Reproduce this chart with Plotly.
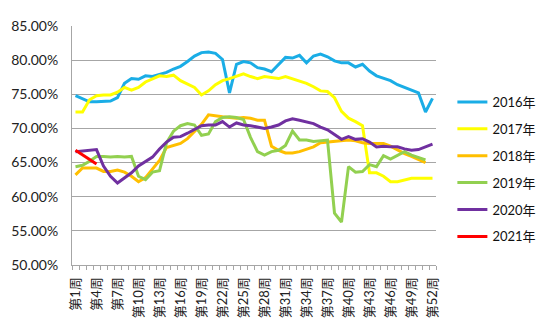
import plotly.graph_objects as go

weeks = list(range(1, 53))
week_labels = [f"第{w}周" for w in weeks]
tick_weeks = list(range(1, 53, 3))

s2016 = [74.8, 74.3, 73.9, 73.9, 74.0, 74.0, 74.5, 76.6, 77.3, 77.2,
         77.7, 77.6, 77.9, 78.2, 78.7, 79.1, 79.8, 80.6, 81.1, 81.2,
         81.0, 80.1, 75.2, 79.4, 79.8, 79.6, 78.9, 78.7, 78.3, 79.3,
         80.4, 80.3, 80.7, 79.6, 80.6, 80.9, 80.5, 79.9, 79.6, 79.6,
         79.0, 79.4, 78.4, 77.7, 77.3, 77.0, 76.4, 76.0, 75.5, 75.2,
         72.4, 74.4]
s2017 = [72.4, 72.4, 74.2, 74.8, 74.9, 74.9, 75.3, 76.0, 75.6, 76.0,
         76.8, 77.3, 77.7, 77.6, 77.8, 77.0, 76.5, 76.0, 74.9, 75.5,
         76.4, 77.0, 77.3, 77.6, 78.0, 77.6, 77.3, 77.6, 77.4, 77.3,
         77.6, 77.3, 77.0, 76.6, 76.1, 75.5, 75.4, 74.5, 72.5, 71.5,
         71.0, 70.4, 63.5, 63.5, 63.0, 62.2, 62.2, 62.4, 62.7, 62.7,
         62.7, 62.7]
s2018 = [63.2, 64.2, 64.2, 64.2, 63.7, 63.7, 63.9, 63.6, 63.0, 62.2,
         62.8, 64.0, 65.3, 67.2, 67.5, 67.8, 68.5, 69.6, 70.6, 72.0,
         71.8, 71.7, 71.6, 71.5, 71.6, 71.5, 71.2, 71.2, 67.4, 66.8,
         66.4, 66.4, 66.6, 66.9, 67.3, 67.9, 68.0, 68.2, 68.3, 68.3,
         68.2, 67.9, 67.8, 67.8, 67.8, 67.4, 66.8, 66.3, 65.9, 65.4,
         65.0]
s2019 = [64.4, 64.6, 65.2, 65.9, 65.9, 65.8, 65.9, 65.8, 65.9, 63.0,
         62.5, 63.6, 63.8, 67.9, 69.6, 70.4, 70.7, 70.5, 69.0, 69.2,
         71.0, 71.6, 71.7, 71.6, 71.3, 68.7, 66.6, 66.1, 66.6, 66.8,
         67.5, 69.6, 68.3, 68.3, 68.1, 68.2, 68.3, 57.6, 56.3, 64.4,
         63.6, 63.7, 64.7, 64.4, 66.0, 65.5, 66.1, 66.6, 66.1, 65.8,
         65.4]
s2020 = [66.6, 66.7, 66.8, 66.9, 64.5, 63.0, 62.0, 62.7, 63.5, 64.5,
         65.2, 65.8, 67.0, 68.0, 68.7, 68.8, 69.3, 69.8, 70.4, 70.5,
         70.5, 71.0, 70.2, 70.8, 70.5, 70.4, 70.2, 70.0, 70.2, 70.5,
         71.1, 71.4, 71.2, 71.0, 70.7, 70.2, 69.8, 69.1, 68.4, 68.8,
         68.4, 68.5, 68.0, 67.3, 67.4, 67.3, 67.3, 67.0, 66.8, 66.9,
         67.3, 67.7]
s2021 = [66.8, 66.1, 65.4, 64.8]

series_names = ["2016年", "2017年", "2018年", "2019年", "2020年", "2021年"]
series_values = [s2016, s2017, s2018, s2019, s2020, s2021]
colors = ["#1AADE6", "#FFFF00", "#FFBF00", "#92D050", "#7030A0", "#FF0000"]

y_ticks = [50, 55, 60, 65, 70, 75, 80, 85]
y_labels = [f"{v:.2f}%" for v in y_ticks]

fig = go.Figure()
for i, (name, vals, col) in enumerate(zip(series_names, series_values, colors)):
    fig.add_trace(go.Scatter(
        x=weeks[:len(vals)], y=vals, name=name, mode="lines",
        line=dict(color=col, width=3), legendgroup=f"g{i}",
    ))

font_main = "Lato, 'Noto Sans CJK SC', sans-serif"

fig.update_layout(
    width=550, height=335,
    margin=dict(l=72, r=114, t=26, b=70, autoexpand=False),
    paper_bgcolor="white", plot_bgcolor="white",
    font=dict(family=font_main, size=13, color="#222222"),
    legend=dict(
        x=1.045, xref="paper", xanchor="left",
        y=0.745, yref="paper", yanchor="top",
        font=dict(size=13, color="#111111"),
        itemwidth=30, tracegroupgap=7,
        bgcolor="rgba(0,0,0,0)",
    ),
    showlegend=True,
)

fig.update_xaxes(
    range=[0.5, 52.5],
    tickmode="array", tickvals=tick_weeks,
    ticktext=[week_labels[w - 1] for w in tick_weeks],
    tickangle=-90, ticks="", ticklabelstandoff=6,
    tickfont=dict(size=13, color="#222222"),
    showgrid=False, zeroline=False,
    showline=True, linecolor="#A6A6A6", linewidth=1,
    minor=dict(ticks="outside", tick0=0.5, dtick=1, ticklen=4,
               tickcolor="#A6A6A6", showgrid=False),
)
fig.update_yaxes(
    range=[50, 85],
    tickmode="array", tickvals=y_ticks, ticktext=y_labels,
    tickfont=dict(size=14, color="#222222"),
    showgrid=True, gridcolor="#A6A6A6", gridwidth=1,
    zeroline=False, showline=True, linecolor="#A6A6A6", linewidth=1,
    ticks="", ticklen=0, ticklabelstandoff=10,
)

fig.write_html("out.html")
